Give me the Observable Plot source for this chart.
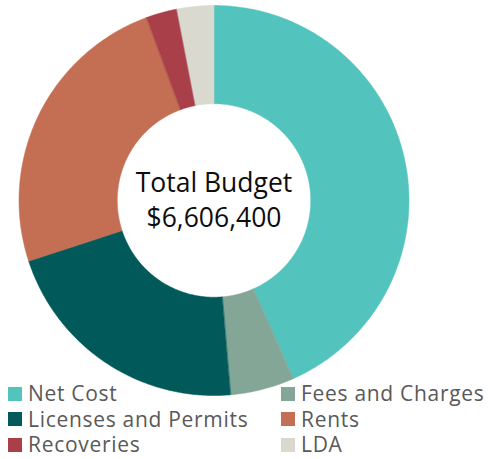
<!DOCTYPE html>
<html>
<head>
<meta charset="utf-8">
<script src="https://cdn.jsdelivr.net/npm/d3@7"></script>
<script src="https://cdn.jsdelivr.net/npm/@observablehq/plot@0.6"></script>
<style>
  html, body { margin: 0; padding: 0; background: #fff; }
  #wrap { position: relative; width: 488px; height: 459px; overflow: hidden; }
  #legend { position: absolute; left: 0; top: 0; width: 488px; height: 459px; pointer-events: none;
            font-family: "Open Sans", sans-serif; font-size: 21px; letter-spacing: 0.7px; color: #595959; line-height: 25px; }
  .item { position: absolute; display: flex; align-items: center; white-space: nowrap; }
  .sw { width: 14px; height: 14px; margin-right: 6px; flex: none; }
</style>
</head>
<body>
<div id="wrap"><div id="legend"></div></div>
<script>
const categories = ["Net Cost", "Fees and Charges", "Licenses and Permits", "Rents", "Recoveries", "LDA"];
const values = [2862600, 351500, 1409100, 1611300, 171400, 200500];
const colors = ["#52C3BD", "#84A697", "#01595A", "#C46F53", "#A93F48", "#D9D9D0"];
const centerLabel = ["Total Budget", "$6,606,400"];

const rOuter = 1, rInner = 0.496;
const pie = d3.pie().sort(null).value(d => d.value);
const arcs = pie(categories.map((c, i) => ({category: c, value: values[i]})));

// polygon vertices of each slice (derived from pie angles)
const pts = [];
for (const a of arcs) {
  const n = Math.max(8, Math.ceil((a.endAngle - a.startAngle) / 0.01));
  for (let k = 0; k <= n; k++) {
    const t = a.startAngle + (a.endAngle - a.startAngle) * k / n;
    pts.push({category: a.data.category, x: rOuter * Math.sin(t), y: rOuter * Math.cos(t)});
  }
  for (let k = n; k >= 0; k--) {
    const t = a.startAngle + (a.endAngle - a.startAngle) * k / n;
    pts.push({category: a.data.category, x: rInner * Math.sin(t), y: rInner * Math.cos(t)});
  }
}

const chart = Plot.plot({
  width: 488,
  height: 459,
  marginLeft: 18.5,
  marginRight: 79.5,
  marginTop: 5,
  marginBottom: 64,
  x: {domain: [-1, 1], axis: null},
  y: {domain: [-1, 1], axis: null},
  color: {domain: categories, range: colors},
  style: {fontFamily: "'Open Sans', sans-serif", background: "transparent"},
  marks: [
    Plot.line(pts, {x: "x", y: "y", z: "category", fill: "category", stroke: "category", strokeWidth: 0.5, curve: "linear-closed"}),
    Plot.text([centerLabel.join("\n")], {x: () => 0, y: () => 0, text: d => d, fontSize: 26.5, lineHeight: 1.3, dy: -2, fill: "#0d0d0d", textAnchor: "middle", letterSpacing: 0.3})
  ]
});
document.getElementById("wrap").prepend(chart);

// legend: two columns, three rows
const legend = document.getElementById("legend");
categories.forEach((c, i) => {
  const col = i % 2, row = Math.floor(i / 2);
  const el = document.createElement("div");
  el.className = "item";
  el.style.left = (col ? 281 : 8) + "px";
  el.style.top = (381 + row * 25.5) + "px";
  const sw = document.createElement("div");
  sw.className = "sw";
  sw.style.background = colors[i];
  const tx = document.createElement("span");
  tx.textContent = c;
  el.append(sw, tx);
  legend.append(el);
});
</script>
</body>
</html>
